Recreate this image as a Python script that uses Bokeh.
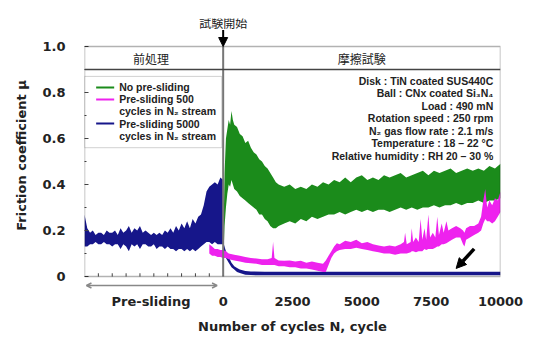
from bokeh.plotting import figure
from bokeh.models import (ColumnDataSource, FixedTicker, CustomJSTickFormatter, Label, Span,
                          BoxAnnotation, Arrow, NormalHead, OpenHead)
from bokeh.embed import file_html
from bokeh.resources import INLINE

# ---------------- data ----------------
# Pre-sliding 5000 cycles in N2 stream (navy): envelope of the noisy trace
navy_x = [-5000, -4900, -4800, -4700, -4600, -4500, -4400, -4300, -4200, -4100, -4000,
          -3900, -3800, -3700, -3600, -3500, -3400, -3300, -3200, -3100, -3000,
          -2900, -2800, -2700, -2600, -2500, -2400, -2300, -2200, -2100, -2000,
          -1900, -1800, -1700, -1600, -1500, -1400, -1300, -1200, -1100, -1000,
          -900, -800, -700, -600, -500, -400, -300, -200, -100, 0,
          0, 100, 200, 300, 400, 500, 600, 800, 1000, 1500, 2500, 5000, 7500, 10000]
navy_hi = [0.27, 0.21, 0.19, 0.20, 0.18, 0.19, 0.19, 0.18, 0.20, 0.19, 0.19,
           0.20, 0.18, 0.21, 0.19, 0.20, 0.22, 0.19, 0.21, 0.20, 0.22,
           0.19, 0.20, 0.19, 0.18, 0.19, 0.18, 0.19, 0.18, 0.20, 0.19,
           0.21, 0.19, 0.22, 0.20, 0.23, 0.21, 0.24, 0.21, 0.25, 0.23,
           0.26, 0.27, 0.31, 0.37, 0.39, 0.40, 0.41, 0.40, 0.43, 0.42,
           0.15, 0.11, 0.085, 0.06, 0.045, 0.037, 0.03, 0.024, 0.022, 0.021, 0.021, 0.021, 0.021, 0.021]
navy_lo = [0.13, 0.13, 0.14, 0.14, 0.15, 0.14, 0.14, 0.15, 0.14, 0.14, 0.13,
           0.14, 0.14, 0.12, 0.14, 0.13, 0.11, 0.14, 0.13, 0.14, 0.12,
           0.14, 0.14, 0.13, 0.13, 0.14, 0.12, 0.13, 0.13, 0.12, 0.13,
           0.12, 0.12, 0.11, 0.12, 0.12, 0.11, 0.12, 0.11, 0.12, 0.11,
           0.12, 0.13, 0.14, 0.15, 0.15, 0.14, 0.15, 0.14, 0.14, 0.14,
           0.12, 0.08, 0.06, 0.04, 0.03, 0.02, 0.015, 0.008, 0.006, 0.005, 0.005, 0.005, 0.005, 0.005]

# Pre-sliding 500 cycles in N2 stream (magenta)
mag_x = [-500, -400, -300, -200, -100, 0, 100, 200, 400, 600, 800, 1000, 1200, 1400, 1600,
         1750, 1800, 1850, 2000, 2200, 2400, 2600, 2800, 3000, 3200, 3400, 3600, 3700, 3800,
         3900, 4000, 4100, 4200, 4400, 4600, 4800, 5000, 5200, 5400, 5600, 5800, 6000, 6200,
         6400, 6520, 6560, 6620, 6760, 6800, 6850, 6950, 7050, 7120, 7180, 7260, 7320, 7400,
         7460, 7560, 7650, 7720, 7780, 7880, 7950, 8050, 8120, 8250, 8400, 8550, 8650, 8700,
         8760, 8900, 9050, 9200, 9300, 9380, 9450, 9520, 9600, 9700, 9800, 9900, 10000]
mag_hi = [0.14, 0.13, 0.12, 0.12, 0.115, 0.115, 0.11, 0.10, 0.095, 0.09, 0.085, 0.08, 0.078, 0.075, 0.075,
          0.08, 0.15, 0.08, 0.07, 0.068, 0.07, 0.065, 0.068, 0.06, 0.065, 0.06, 0.055, 0.07, 0.09,
          0.11, 0.13, 0.145, 0.14, 0.155, 0.15, 0.16, 0.145, 0.15, 0.14, 0.135, 0.13, 0.135, 0.13,
          0.14, 0.15, 0.19, 0.14, 0.15, 0.21, 0.15, 0.17, 0.15, 0.25, 0.16, 0.21, 0.16, 0.27,
          0.17, 0.19, 0.17, 0.26, 0.18, 0.23, 0.19, 0.24, 0.20, 0.21, 0.22, 0.21, 0.20, 0.19,
          0.21, 0.22, 0.22, 0.23, 0.26, 0.33, 0.38, 0.30, 0.33, 0.31, 0.34, 0.33, 0.37]
mag_lo = [0.10, 0.09, 0.09, 0.085, 0.085, 0.08, 0.08, 0.075, 0.07, 0.065, 0.06, 0.058, 0.055, 0.05, 0.05,
          0.05, 0.05, 0.05, 0.045, 0.045, 0.04, 0.04, 0.035, 0.035, 0.03, 0.025, 0.02, 0.02, 0.05,
          0.08, 0.10, 0.11, 0.115, 0.12, 0.12, 0.125, 0.12, 0.115, 0.11, 0.105, 0.10, 0.10, 0.095,
          0.10, 0.10, 0.10, 0.10, 0.105, 0.11, 0.11, 0.105, 0.11, 0.11, 0.11, 0.12, 0.115, 0.12,
          0.12, 0.12, 0.125, 0.13, 0.13, 0.14, 0.14, 0.145, 0.15, 0.16, 0.17, 0.17, 0.14, 0.13,
          0.16, 0.17, 0.18, 0.19, 0.20, 0.23, 0.25, 0.24, 0.24, 0.23, 0.24, 0.26, 0.28]

# No pre-sliding (green)
green_x = [0, 50, 100, 150, 200, 250, 300, 350, 400, 500, 600, 700, 800, 900, 1000, 1100, 1200,
           1300, 1400, 1500, 1600, 1700, 1800, 1900, 2000, 2200, 2400, 2600, 2800, 3000, 3200,
           3400, 3600, 3800, 4000, 4200, 4400, 4600, 4800, 5000, 5200, 5400, 5600, 5800, 6000,
           6200, 6400, 6600, 6800, 7000, 7200, 7400, 7600, 7800, 8000, 8200, 8400, 8600, 8800,
           9000, 9200, 9400, 9600, 9800, 10000]
green_hi = [0.10, 0.45, 0.60, 0.64, 0.68, 0.66, 0.72, 0.68, 0.66, 0.65, 0.62, 0.61, 0.58, 0.59, 0.56, 0.54, 0.53,
            0.51, 0.50, 0.48, 0.47, 0.45, 0.43, 0.41, 0.40, 0.39, 0.40, 0.38, 0.39, 0.38, 0.40,
            0.39, 0.41, 0.40, 0.42, 0.41, 0.43, 0.41, 0.43, 0.44, 0.42, 0.43, 0.42, 0.44, 0.43,
            0.44, 0.45, 0.43, 0.44, 0.45, 0.46, 0.44, 0.46, 0.45, 0.46, 0.47, 0.45, 0.46, 0.47,
            0.46, 0.47, 0.46, 0.48, 0.47, 0.49]
green_lo = [0.05, 0.22, 0.30, 0.36, 0.40, 0.39, 0.42, 0.40, 0.38, 0.37, 0.35, 0.34, 0.33, 0.32, 0.31, 0.30, 0.29,
            0.27, 0.27, 0.25, 0.24, 0.22, 0.21, 0.21, 0.22, 0.23, 0.24, 0.23, 0.25, 0.24, 0.26,
            0.25, 0.26, 0.27, 0.27, 0.28, 0.27, 0.28, 0.29, 0.28, 0.29, 0.28, 0.29, 0.29, 0.28,
            0.29, 0.30, 0.29, 0.30, 0.29, 0.30, 0.30, 0.31, 0.30, 0.31, 0.31, 0.32, 0.31, 0.32,
            0.32, 0.33, 0.32, 0.33, 0.33, 0.34]

y_ticks = [0, 0.2, 0.4, 0.6, 0.8, 1.0]
y_minor = [0.1, 0.3, 0.5, 0.7, 0.9]
x_ticks = [-2600, 0, 2500, 5000, 7500, 10000]
x_minor = [-4500, -4000, -3500, -3000, -2500, -2000, -1500, -1000, -500]
legend_labels = ["No pre-sliding", "Pre-sliding 500\ncycles in N\u2082 stream",
                 "Pre-sliding 5000\ncycles in N\u2082 stream"]
conditions = ["Disk : TiN coated SUS440C",
              "Ball : CNx coated Si\u2083N\u2084",
              "Load : 490 mN",
              "Rotation speed : 250 rpm",
              "N\u2082 gas flow rate : 2.1 m/s",
              "Temperature : 18 \u2013 22 \u00b0C",
              "Relative humidity : RH 20 \u2013 30 %"]

NAVY = "#16168a"
MAG = "#ee22ee"
GREEN = "#1b8b1b"
LBL_FONT = "Liberation Sans"
AX_FONT = "DejaVu Sans"
JP_FONT = "Noto Sans CJK JP"

# frame extended a little above 1.0 and below 0 so that the arrows there are drawn
p = figure(width=530, height=339, x_range=(-5000, 10000), y_range=(-16 / 230, 1 + 28 / 230),
           output_backend="svg", toolbar_location=None,
           min_border_left=84, min_border_right=30, min_border_top=18, min_border_bottom=47)
p.grid.visible = False
p.outline_line_color = None
p.background_fill_color = "white"

# data
p.varea(x="x", y1="lo", y2="hi", source=ColumnDataSource(dict(x=navy_x, lo=navy_lo, hi=navy_hi)),
        fill_color=NAVY)
p.varea(x="x", y1="lo", y2="hi", source=ColumnDataSource(dict(x=green_x, lo=green_lo, hi=green_hi)),
        fill_color=GREEN)
p.varea(x="x", y1="lo", y2="hi", source=ColumnDataSource(dict(x=mag_x, lo=mag_lo, hi=mag_hi)),
        fill_color=MAG)

# plot box (0..1)
p.add_layout(BoxAnnotation(left=-5000, right=10000, bottom=0, top=1.0, fill_color=None,
                           line_color="black", line_width=1.5))

# x axis: labels only, ticks drawn inside the box
xa = p.xaxis[0]
xa.ticker = FixedTicker(ticks=x_ticks)
xa.formatter = CustomJSTickFormatter(code="return tick < 0 ? 'Pre-sliding' : tick.toFixed(0);")
xa.axis_line_color = None
xa.major_tick_line_color = None
xa.minor_tick_line_color = None
xa.major_tick_in = 0
xa.major_tick_out = 0
xa.minor_tick_out = 0
xa.major_label_standoff = 1
xa.axis_label = "Number of cycles N, cycle"
xa.axis_label_standoff = 7
p.segment(x0=x_minor, x1=x_minor, y0=[0] * len(x_minor), y1=[0.014] * len(x_minor),
          line_color="#444", line_width=1)

ya = p.yaxis[0]
ya.ticker = FixedTicker(ticks=y_ticks, minor_ticks=y_minor)
ya.formatter = CustomJSTickFormatter(code="return tick == 0 ? '0' : tick.toFixed(1);")
ya.bounds = (0, 1.0)
ya.axis_line_color = None
ya.major_tick_in = 4
ya.major_tick_out = 0
ya.minor_tick_in = 2
ya.minor_tick_out = 0
ya.major_tick_line_color = "#444"
ya.minor_tick_line_color = "#444"
ya.major_label_standoff = 19
ya.axis_label = "Friction coefficient \u03bc"
ya.axis_label_standoff = 10

for ax in (xa, ya):
    ax.major_label_text_font = AX_FONT
    ax.major_label_text_font_style = "bold"
    ax.major_label_text_font_size = "13px"
    ax.major_label_text_color = "#222"
    ax.axis_label_text_font = AX_FONT
    ax.axis_label_text_font_style = "bold"
    ax.axis_label_text_font_size = "13px"
    ax.axis_label_text_color = "#222"

# header band and divider
p.add_layout(Span(location=0.9, dimension="width", line_color="#444", line_width=1.5))
p.segment(x0=[0], x1=[0], y0=[0], y1=[1.0], line_color="#777", line_width=2)
p.add_layout(Label(x=-2600, y=0.95, text="前処理", text_align="center", text_baseline="middle",
                   text_font=JP_FONT, text_font_size="12px", text_color="#222"))
p.add_layout(Label(x=5000, y=0.95, text="摩擦試験", text_align="center", text_baseline="middle",
                   text_font=JP_FONT, text_font_size="12px", text_color="#222"))
p.add_layout(Label(x=0, y=1.104, text="試験開始", text_align="center", text_baseline="middle",
                   text_font=JP_FONT, text_font_size="12px", text_color="#222"))
p.add_layout(Arrow(x_start=0, y_start=1.072, x_end=0, y_end=1.0, line_width=2, line_color="black",
                   end=NormalHead(size=9, fill_color="black", line_color="black")))

# pre-sliding double arrow below axis
p.add_layout(Arrow(x_start=-4930, y_start=-0.039, x_end=-220, y_end=-0.039, line_width=1.5,
                   line_color="#888",
                   start=OpenHead(size=5, line_color="#888", line_width=1.5),
                   end=OpenHead(size=5, line_color="#888", line_width=1.5)))

# black arrow pointing to navy trace
p.add_layout(Arrow(x_start=9050, y_start=0.12, x_end=8400, y_end=0.035, line_width=3.5,
                   line_color="black", end=NormalHead(size=10, fill_color="black", line_color="black")))

# legend (manual)
p.add_layout(BoxAnnotation(left=-5000, right=-50, bottom=0.56, top=0.87, fill_color="white", fill_alpha=1,
                           line_color="#666", line_width=1, level="underlay"))
leg_colors = [GREEN, MAG, NAVY]
leg_y = [0.822, 0.770, 0.665]
for c, yy, lab in zip(leg_colors, leg_y, legend_labels):
    p.segment(x0=-4580, x1=-3930, y0=yy, y1=yy, line_color=c, line_width=2)
    for k, line in enumerate(lab.split("\n")):
        p.add_layout(Label(x=-3750, y=yy - k * 0.052, text=line, text_align="left", text_baseline="middle",
                           text_font=LBL_FONT, text_font_style="bold", text_font_size="10.5px",
                           text_color="#222"))

# test conditions
for k, line in enumerate(conditions):
    p.add_layout(Label(x=9740, y=0.852 - k * 0.0545, text=line, text_align="right", text_baseline="middle",
                       text_font=LBL_FONT, text_font_style="bold", text_font_size="10.5px",
                       text_color="#222"))

open("out.html", "w").write(file_html(p, INLINE))
